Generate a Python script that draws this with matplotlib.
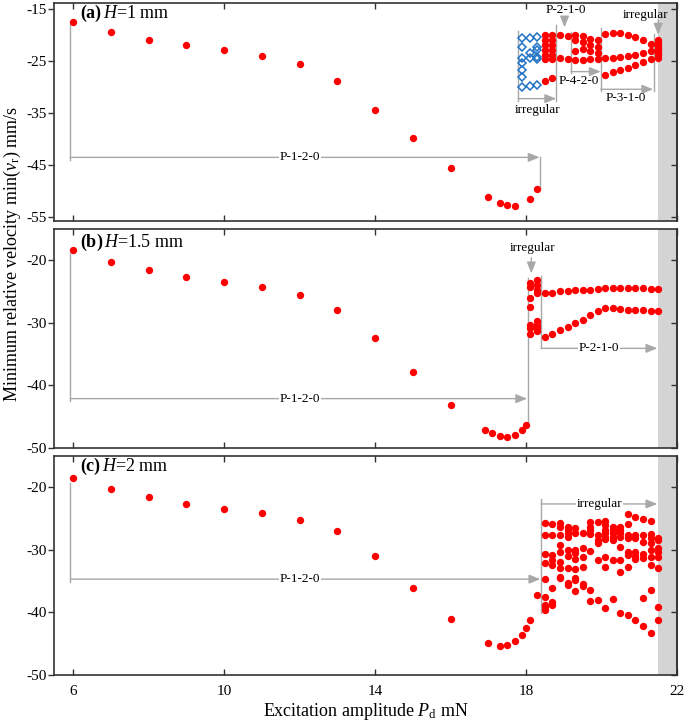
import matplotlib
matplotlib.use('Agg')
import matplotlib.pyplot as plt

plt.rcParams['font.family'] = ['Liberation Serif', 'DejaVu Serif']
plt.rcParams['mathtext.fontset'] = 'custom'
plt.rcParams['mathtext.rm'] = 'Liberation Serif'
plt.rcParams['mathtext.it'] = 'Liberation Serif:italic'
plt.rcParams['mathtext.bf'] = 'Liberation Serif:bold'
plt.rcParams['axes.unicode_minus'] = False

# ---------------- data ----------------
x_ticks = [6, 10, 14, 18, 22]
a_yticks = [-15, -25, -35, -45, -55]
bc_yticks = [-20, -30, -40, -50]

# panel (a) H = 1 mm
a_main_x = [6, 7, 8, 9, 10, 11, 12, 13, 14, 15, 16, 17.0, 17.3, 17.5, 17.7, 18.1, 18.3]
a_main_y = [-17.5, -19.4, -20.9, -21.9, -22.9, -24.0, -25.6, -28.8, -34.4, -39.8, -45.6,
            -51.2, -52.3, -52.7, -52.9, -51.5, -49.5]
a_blue_x = [17.9] * 7 + [18.1] * 4 + [18.3] * 6
a_blue_y = [-20.6, -22.2, -24.4, -25.3, -26.7, -28.0, -29.9,
            -20.5, -23.4, -24.4, -29.8,
            -20.4, -22.3, -22.8, -24.2, -24.6, -29.6]
a_irr_x = [18.5] * 7 + [18.7] * 7
a_irr_y = [-20.0, -20.9, -21.9, -22.9, -23.8, -24.6, -28.8,
           -19.9, -20.9, -21.9, -22.9, -23.8, -24.5, -28.3]
a_p210_x = [18.9, 19.1]
a_p210_up = [-20.0, -20.2]
a_p210_lo = [-24.4, -24.5]
a_p420_x = [19.3, 19.5, 19.7, 19.9]
a_p420_1 = [-20.0, -20.2, -20.7, -21.0]
a_p420_2 = [-20.9, -21.3, -21.9, -22.2]
a_p420_3 = [-23.1, -22.6, -23.0, -23.4]
a_p420_4 = [-24.7, -24.7, -24.6, -24.5]
a_p310_x = [20.1, 20.3, 20.5, 20.7, 20.9, 21.1, 21.3]
a_p310_top = [-19.8, -19.6, -19.6, -19.9, -20.3, -20.9, -21.6]
a_p310_mid = [-24.4, -24.3, -24.1, -24.0, -23.8, -23.5, -23.1]
a_p310_bot = [-27.6, -27.1, -26.7, -26.3, -25.8, -25.2, -24.6]
a_irr2_x = [21.5] * 8
a_irr2_y = [-20.9, -21.4, -21.9, -22.4, -22.9, -23.4, -23.9, -24.3]

# panel (b) H = 1.5 mm
b_main_x = [6, 7, 8, 9, 10, 11, 12, 13, 14, 15, 16, 16.9, 17.1, 17.3, 17.5, 17.7, 17.9, 18.0]
b_main_y = [-18.4, -20.3, -21.6, -22.7, -23.5, -24.3, -25.6, -28.0, -32.5, -37.9, -43.1,
            -47.1, -47.7, -48.2, -48.3, -47.9, -47.1, -46.4]
b_irr_x = [18.1] * 7 + [18.3] * 8
b_irr_y = [-23.6, -24.3, -26.1, -27.5, -30.3, -30.9, -31.8,
           -23.2, -23.9, -24.7, -25.2, -29.7, -30.3, -30.9, -31.3]
b_p210_x = [18.5, 18.7, 18.9, 19.1, 19.3, 19.5, 19.7, 19.9,
            20.1, 20.3, 20.5, 20.7, 20.9, 21.1, 21.3, 21.5]
b_p210_up = [-25.3, -25.2, -25.0, -24.9, -24.8, -24.8, -24.7, -24.6,
             -24.5, -24.4, -24.4, -24.4, -24.4, -24.4, -24.6, -24.6]
b_p210_lo = [-32.3, -31.8, -31.2, -30.7, -30.1, -29.5, -28.8, -28.2,
             -27.6, -27.6, -27.8, -27.9, -27.9, -28.0, -28.1, -28.1]

# panel (c) H = 2 mm
c_main_x = [6, 7, 8, 9, 10, 11, 12, 13, 14, 15, 16, 17.0, 17.3, 17.5, 17.7, 17.9, 18.0, 18.1, 18.3]
c_main_y = [-18.5, -20.3, -21.6, -22.7, -23.5, -24.1, -25.2, -27.0, -31.0, -36.1, -41.1,
            -44.9, -45.3, -45.2, -44.6, -43.6, -42.5, -41.3, -37.2]
c_irr_x = [18.5, 18.7, 18.9, 19.1, 19.3, 19.5, 19.7, 19.9,
           20.1, 20.3, 20.5, 20.7, 20.9, 21.1, 21.3, 21.5]
c_irr_y = [
    [-25.7, -27.7, -30.7, -32.1, -34.6, -37.6, -38.8, -39.2, -39.7],
    [-25.9, -27.7, -30.8, -31.7, -32.4, -36.1, -38.4, -38.8],
    [-25.7, -26.3, -27.7, -29.2, -30.3, -31.9, -32.9, -34.3, -34.5],
    [-26.3, -26.8, -27.3, -27.9, -30.0, -31.0, -32.9, -35.3, -35.6],
    [-26.5, -27.3, -30.0, -30.5, -31.5, -33.1, -34.5, -34.8, -36.6],
    [-27.3, -29.8, -31.2, -32.8, -35.5, -35.8],
    [-25.6, -26.3, -26.8, -27.5, -30.2, -36.4, -38.2],
    [-25.6, -27.6, -28.4, -28.9, -31.7, -38.1],
    [-25.5, -26.1, -26.8, -27.3, -27.9, -28.3, -31.2, -32.7, -39.3],
    [-26.3, -26.8, -27.3, -27.9, -28.4, -31.7, -37.8],
    [-26.3, -26.8, -27.3, -27.9, -29.6, -31.7, -33.6, -40.1],
    [-24.3, -25.9, -27.6, -28.1, -30.4, -30.8, -32.7, -40.4],
    [-24.8, -27.7, -28.2, -30.4, -31.0, -31.5, -41.2],
    [-25.1, -27.7, -28.7, -30.7, -31.3, -37.7, -42.1],
    [-25.4, -27.5, -28.1, -28.9, -30.0, -31.2, -32.4, -36.5, -43.3],
    [-28.1, -28.4, -29.7, -30.4, -31.2, -32.9, -39.2, -41.2],
]

# ---------------- style ----------------
RED = '#ff0000'
BLUE = '#1f72c4'
GRAY = '#a8a8a8'
FS_TICK = 11
FS_ANN = 9.5
FS_TITLE = 13

fig = plt.figure(figsize=(6.85, 7.22), dpi=100)
L = 54.3 / 685
W = (677.0 - 54.3) / 685


def rect(top, bottom):
    return [L, 1 - bottom / 722, W, (bottom - top) / 722]


axa = fig.add_axes(rect(3, 221.3))
axb = fig.add_axes(rect(229, 447.7))
axc = fig.add_axes(rect(455.7, 675))


def style(ax, ylim, yticks, show_x):
    ax.set_xlim(5.5, 22)
    ax.set_ylim(*ylim)
    ax.set_xticks(x_ticks)
    ax.set_yticks(yticks)
    ax.axvspan(21.5, 22, color='#d4d4d4', lw=0, zorder=0)
    ax.tick_params(axis='x', direction='in', top=True, bottom=True, length=4, width=1,
                   labelsize=FS_TICK, pad=7, labelbottom=show_x, color='#333333')
    ax.tick_params(axis='y', direction='out', left=True, right=False, length=4, width=1,
                   labelsize=FS_TICK, pad=1.5, color='#333333')
    sec = ax.secondary_yaxis('right')
    sec.set_yticks(yticks)
    sec.tick_params(direction='in', length=4, width=1, labelright=False, color='#333333')
    sec.spines['right'].set_linewidth(1.2)
    sec.spines['right'].set_color('#333333')
    for s in ax.spines.values():
        s.set_linewidth(1.2)
        s.set_color('#333333')


def dots(ax, x, y):
    ax.plot(x, y, 'o', color=RED, ms=5.3, mew=0, ls='none', zorder=4)


def vline(ax, x, y0, y1):
    ax.plot([x, x], [y0, y1], color=GRAY, lw=1, zorder=2)


def arrow(ax, x0, y0, x1, y1):
    ax.annotate('', xy=(x1, y1), xytext=(x0, y0),
                arrowprops=dict(arrowstyle='-|>,head_length=0.75,head_width=0.3',
                                color=GRAY, lw=1, shrinkA=0, shrinkB=0,
                                mutation_scale=9), zorder=2)


def label(ax, x, y, s, bg=True):
    kw = dict(fc='white', ec='none', pad=0.5) if bg else None
    ax.text(x, y, s, ha='center', va='center', fontsize=FS_ANN, bbox=kw, zorder=3)


style(axa, (-55.8, -13.8), a_yticks, False)
style(axb, (-50, -15), bc_yticks, False)
style(axc, (-50, -15), bc_yticks, True)

# ---- panel (a)
dots(axa, a_main_x, a_main_y)
axa.plot(a_blue_x, a_blue_y, 'D', mfc='none', mec=BLUE, mew=1.1, ms=3.8, ls='none', zorder=4)
dots(axa, a_irr_x, a_irr_y)
dots(axa, a_p210_x, a_p210_up)
dots(axa, a_p210_x, a_p210_lo)
for row in (a_p420_1, a_p420_2, a_p420_3, a_p420_4):
    dots(axa, a_p420_x, row)
for row in (a_p310_top, a_p310_mid, a_p310_bot):
    dots(axa, a_p310_x, row)
dots(axa, a_irr2_x, a_irr2_y)

vline(axa, 5.92, -17.9, -44.0)
arrow(axa, 5.92, -43.5, 18.36, -43.5)
vline(axa, 18.36, -43.5, -49.3)
label(axa, 12.0, -43.5, 'P-1-2-0')

vline(axa, 17.79, -19.2, -32.6)
vline(axa, 18.80, -18.0, -32.6)
arrow(axa, 17.79, -32.2, 18.80, -32.2)
label(axa, 18.31, -34.3, 'irregular', bg=False)

label(axa, 19.06, -15.2, 'P-2-1-0', bg=False)
arrow(axa, 19.02, -16.4, 19.02, -18.5)

vline(axa, 19.19, -19.3, -27.3)
arrow(axa, 19.19, -27.0, 19.98, -27.0)
label(axa, 19.41, -28.8, 'P-4-2-0', bg=False)

vline(axa, 19.98, -18.7, -30.7)
arrow(axa, 19.98, -30.4, 21.37, -30.4)
vline(axa, 21.39, -19.8, -30.7)
label(axa, 20.64, -32.0, 'P-3-1-0', bg=False)

label(axa, 21.17, -16.1, 'irregular', bg=False)
arrow(axa, 21.5, -17.1, 21.5, -19.9)

axa.text(0.041, 0.953, r'$\mathbf{(a)}\,$$H$=1 mm', transform=axa.transAxes,
         fontsize=FS_TITLE, ha='left', va='center')

# ---- panel (b)
dots(axb, b_main_x, b_main_y)
dots(axb, b_irr_x, b_irr_y)
dots(axb, b_p210_x, b_p210_up)
dots(axb, b_p210_x, b_p210_lo)

vline(axb, 5.92, -18.9, -42.6)
arrow(axb, 5.92, -42.15, 18.03, -42.15)
label(axb, 12.0, -42.15, 'P-1-2-0')
vline(axb, 18.05, -22.9, -46.4)
vline(axb, 18.4, -22.5, -34.1)
arrow(axb, 18.4, -34.1, 21.48, -34.1)
label(axb, 19.94, -34.1, 'P-2-1-0')
label(axb, 18.18, -18.1, 'irregular', bg=False)
arrow(axb, 18.14, -19.6, 18.14, -22.1)

axb.text(0.041, 0.937, r'$\mathbf{(b)}\,$$H$=1.5 mm', transform=axb.transAxes,
         fontsize=FS_TITLE, ha='left', va='center')

# ---- panel (c)
dots(axc, c_main_x, c_main_y)
for xv, col in zip(c_irr_x, c_irr_y):
    dots(axc, [xv] * len(col), col)

vline(axc, 5.92, -19.3, -35.1)
arrow(axc, 5.92, -34.7, 18.38, -34.7)
label(axc, 12.0, -34.7, 'P-1-2-0')
vline(axc, 18.40, -21.9, -40.1)
arrow(axc, 18.40, -22.7, 21.48, -22.7)
label(axc, 19.94, -22.7, 'irregular')

axc.text(0.041, 0.95, r'$\mathbf{(c)}\,$$H$=2 mm', transform=axc.transAxes,
         fontsize=FS_TITLE, ha='left', va='center')

# ---- axis labels
fig.text(12 / 685, 1 - 254 / 722, r'Minimum relative velocity min($v_{\mathrm{r}}$) mm/s',
         rotation=90, ha='center', va='center', fontsize=13)
fig.text((54.3 + 677.0) / 2 / 685, 1 - 712 / 722, r'Excitation amplitude $P_{\mathrm{d}}$ mN',
         ha='center', va='center', fontsize=13)

fig.savefig('out.png', dpi=100)
